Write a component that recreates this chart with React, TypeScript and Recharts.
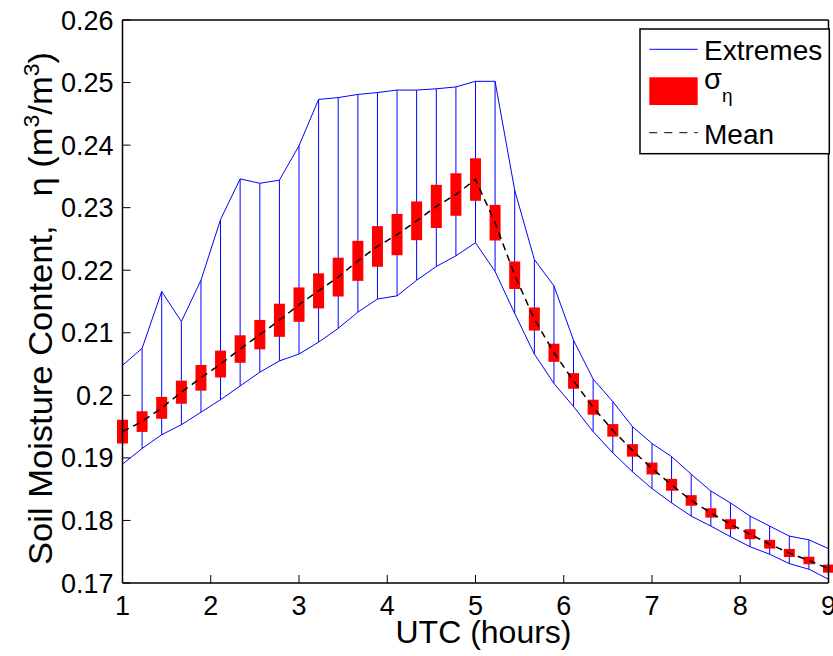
import React from 'react';
import { ComposedChart, Line, Scatter, ErrorBar, XAxis, YAxis, Legend } from 'recharts';

const hours = [1, 1.222, 1.444, 1.667, 1.889, 2.111, 2.333, 2.556, 2.778, 3, 3.222, 3.444, 3.667, 3.889, 4.111, 4.333, 4.556, 4.778, 5, 5.222, 5.444, 5.667, 5.889, 6.111, 6.333, 6.556, 6.778, 7, 7.222, 7.444, 7.667, 7.889, 8.111, 8.333, 8.556, 8.778, 9];
const extremeHigh = [0.2048, 0.2075, 0.2166, 0.2118, 0.2184, 0.2281, 0.2346, 0.2339, 0.2344, 0.2399, 0.2473, 0.2476, 0.2481, 0.2484, 0.2488, 0.2488, 0.249, 0.2493, 0.2502, 0.2502, 0.2328, 0.2217, 0.2175, 0.2088, 0.2026, 0.199, 0.195, 0.1923, 0.1902, 0.1874, 0.1847, 0.1828, 0.1807, 0.1791, 0.1775, 0.1769, 0.1755];
const extremeLow = [0.189, 0.1915, 0.1937, 0.1953, 0.1973, 0.1993, 0.2015, 0.2037, 0.2055, 0.2066, 0.2085, 0.2107, 0.2133, 0.2154, 0.2159, 0.2184, 0.2206, 0.2223, 0.2244, 0.2198, 0.2131, 0.2066, 0.2019, 0.1982, 0.1942, 0.1908, 0.1878, 0.1851, 0.1828, 0.1807, 0.1791, 0.1774, 0.1758, 0.1746, 0.1731, 0.1722, 0.1706];
const meanEta = [0.1942, 0.1958, 0.198, 0.2005, 0.2028, 0.205, 0.2074, 0.2097, 0.212, 0.2145, 0.2167, 0.2189, 0.2215, 0.2238, 0.2257, 0.2279, 0.2302, 0.2321, 0.2345, 0.2276, 0.2192, 0.2122, 0.2068, 0.2023, 0.1981, 0.1944, 0.1912, 0.1883, 0.1857, 0.1832, 0.1812, 0.1794, 0.1778, 0.1762, 0.1748, 0.1736, 0.1723];
const sigmaEta = [0.0019, 0.00165, 0.00175, 0.00185, 0.00205, 0.00215, 0.0022, 0.00235, 0.00265, 0.00275, 0.0028, 0.0031, 0.0032, 0.00325, 0.0033, 0.0031, 0.00345, 0.0034, 0.0034, 0.00285, 0.0022, 0.00185, 0.00145, 0.00125, 0.0012, 0.001, 0.001, 0.00095, 0.00095, 0.00085, 0.00075, 0.0008, 0.0008, 0.0007, 0.00065, 0.0006, 0.00065];
const xTicks = [1, 2, 3, 4, 5, 6, 7, 8, 9];
const yTicks = [0.17, 0.18, 0.19, 0.2, 0.21, 0.22, 0.23, 0.24, 0.25, 0.26];
const legendLabels = ['Extremes', 'σ', 'η', 'Mean'];

const FONT = '"Liberation Sans", Arial, Helvetica, sans-serif';

const rows = hours.map((x, i) => ({
  x,
  upper: extremeHigh[i],
  lower: extremeLow[i],
  mean: meanEta[i],
  ext: [meanEta[i] - extremeLow[i], extremeHigh[i] - meanEta[i]],
  sig: [sigmaEta[i], sigmaEta[i]],
}));

const YLabel = () => (
  <text
    x={52}
    y={565}
    transform="rotate(-90 52 565)"
    fontFamily={FONT}
    fontSize={33}
    fill="#000"
    textAnchor="start"
    textLength={513}
    lengthAdjust="spacingAndGlyphs"
    style={{ whiteSpace: 'pre' }}
  >
    Soil Moisture Content,   η (m<tspan dy={-13} fontSize={22}>3</tspan><tspan dy={13}>/m</tspan><tspan dy={-13} fontSize={22}>3</tspan><tspan dy={13}>)</tspan>
  </text>
);

const XLabel = () => (
  <text x={483.5} y={643} fontFamily={FONT} fontSize={32} fill="#000" textAnchor="middle">
    UTC (hours)
  </text>
);

const renderLegend = () => (
  <svg width={192} height={128} style={{ display: 'block' }}>
    <rect x={1} y={1} width={189.3} height={124.7} fill="#fff" stroke="#000" strokeWidth={1.5} />
    <line x1={10.3} x2={58.7} y1={21.3} y2={21.3} stroke="#0000ff" strokeWidth={1} />
    <text x={65} y={32} fontFamily={FONT} fontSize={28} fill="#000">{legendLabels[0]}</text>
    <rect x={10.3} y={49.3} width={48.4} height={27.7} fill="#ff0000" />
    <text x={65} y={61} fontFamily={FONT} fontSize={29} fill="#000">
      {legendLabels[1]}<tspan dy={13} fontSize={19}>{legendLabels[2]}</tspan>
    </text>
    <line x1={10.3} x2={58.7} y1={104.7} y2={104.7} stroke="#000" strokeWidth={1} strokeDasharray="8 7" />
    <text x={65} y={116} fontFamily={FONT} fontSize={28} fill="#000">{legendLabels[3]}</text>
  </svg>
);

const tickStyle = { fontSize: 27, fill: '#000', fontFamily: FONT };
const axisLineStyle = { stroke: '#000', strokeWidth: 1.5 };
const tickLineStyle = { stroke: '#000', strokeWidth: 1 };

export default function App() {
  return (
    <div style={{ position: 'absolute', left: 0, top: 0, width: 833, height: 656, background: '#fff', fontFamily: FONT }}>
      <ComposedChart width={833} height={656} data={rows} margin={{ top: 19, right: 3.5, bottom: 0, left: 0.5 }}>
        <XAxis
          type="number"
          dataKey="x"
          domain={[1, 9]}
          ticks={xTicks}
          interval={0}
          allowDataOverflow
          height={73}
          tickSize={-8}
          tickMargin={21}
          tick={tickStyle}
          axisLine={axisLineStyle}
          tickLine={tickLineStyle}
          label={XLabel}
        />
        <XAxis
          xAxisId="top"
          orientation="top"
          type="number"
          domain={[1, 9]}
          ticks={xTicks}
          interval={0}
          allowDataOverflow
          height={1}
          tickSize={-8}
          tick={false}
          axisLine={axisLineStyle}
          tickLine={tickLineStyle}
        />
        <YAxis
          type="number"
          domain={[0.17, 0.26]}
          ticks={yTicks}
          interval={0}
          allowDataOverflow
          width={122}
          tickSize={-8}
          tickMargin={17}
          tick={tickStyle}
          axisLine={axisLineStyle}
          tickLine={tickLineStyle}
          label={YLabel}
        />
        <YAxis
          yAxisId="right"
          orientation="right"
          type="number"
          domain={[0.17, 0.26]}
          ticks={yTicks}
          interval={0}
          allowDataOverflow
          width={1}
          tickSize={-8}
          tick={false}
          axisLine={axisLineStyle}
          tickLine={tickLineStyle}
        />
        <Legend
          layout="vertical"
          align="center"
          verticalAlign="middle"
          content={renderLegend}
          wrapperStyle={{ position: 'absolute', left: 639, top: 28, width: 192, height: 128 }}
        />
        <Line dataKey="upper" stroke="#0000ff" strokeWidth={1} dot={false} isAnimationActive={false} type="linear" />
        <Line dataKey="lower" stroke="#0000ff" strokeWidth={1} dot={false} isAnimationActive={false} type="linear" />
        <Scatter dataKey="mean" shape={() => <g />} isAnimationActive={false}>
          <ErrorBar dataKey="ext" direction="y" width={0} stroke="#0000ff" strokeWidth={1} isAnimationActive={false} />
        </Scatter>
        <Scatter dataKey="mean" shape={() => <g />} isAnimationActive={false}>
          <ErrorBar dataKey="sig" direction="y" width={0} stroke="#ff0000" strokeWidth={11} isAnimationActive={false} />
        </Scatter>
        <Line dataKey="mean" stroke="#000" strokeWidth={1.5} strokeDasharray="7 5" dot={false} isAnimationActive={false} type="linear" zIndex={900} />
      </ComposedChart>
    </div>
  );
}
